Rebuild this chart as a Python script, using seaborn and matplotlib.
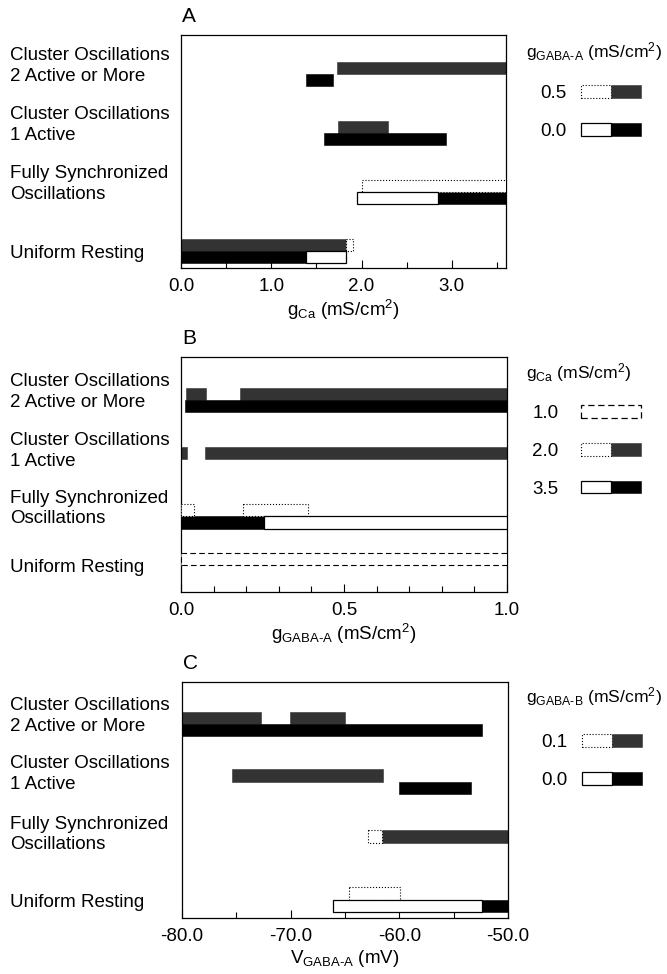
import matplotlib
matplotlib.use("Agg")
import matplotlib.pyplot as plt
import seaborn as sns
import pandas as pd
from matplotlib.patches import Patch
from matplotlib.legend_handler import HandlerTuple
from matplotlib.ticker import MultipleLocator, FormatStrFormatter

# ---------------------------------------------------------------------------
# Network states (top to bottom)
states = ["Cluster Oscillations\n2 Active or More",
          "Cluster Oscillations\n1 Active",
          "Fully Synchronized\nOscillations",
          "Uniform Resting"]

# Panel A: sweep of g_Ca for two g_GABA-A levels
a_row_pos = [0.0, 1.0, 2.0, 3.0]
a_levels = ["0.5", "0.0"]
a_row = [0, 0, 1, 1, 2, 2, 2, 3, 3, 3, 3]
a_level = ["0.5", "0.0", "0.5", "0.0", "0.5", "0.0", "0.0", "0.5", "0.5", "0.0", "0.0"]
a_start = [1.73, 1.38, 1.74, 1.58, 2.00, 1.95, 2.85, 0.00, 1.83, 0.00, 1.39]
a_end = [3.60, 1.68, 2.29, 2.94, 3.60, 2.85, 3.60, 1.83, 1.90, 1.39, 1.83]
a_filled = [1, 1, 1, 1, 0, 0, 1, 1, 0, 1, 0]

# Panel B: sweep of g_GABA-A for three g_Ca levels
b_row_pos = [0.0, 1.0, 1.97, 2.80]
b_levels = ["1.0", "2.0", "3.5"]
b_row = [0, 0, 0, 1, 1, 2, 2, 2, 2, 3]
b_level = ["2.0", "2.0", "3.5", "2.0", "2.0", "2.0", "2.0", "3.5", "3.5", "1.0"]
b_start = [0.015, 0.18, 0.012, 0.0, 0.074, 0.0, 0.19, 0.0, 0.255, 0.0]
b_end = [0.077, 1.0, 1.0, 0.018, 1.0, 0.04, 0.39, 0.255, 1.0, 1.0]
b_filled = [1, 1, 1, 1, 1, 0, 0, 1, 0, 0]

# Panel C: sweep of V_GABA-A for two g_GABA-B levels
c_row_pos = [0.0, 0.98, 2.01, 2.98]
c_levels = ["0.1", "0.0"]
c_row = [0, 0, 0, 1, 1, 2, 2, 3, 3, 3]
c_level = ["0.1", "0.1", "0.0", "0.1", "0.0", "0.1", "0.1", "0.1", "0.0", "0.0"]
c_start = [-80.0, -70.1, -80.0, -75.4, -60.0, -62.9, -61.6, -64.6, -66.1, -52.4]
c_end = [-72.7, -65.0, -52.4, -61.5, -53.4, -61.6, -50.0, -59.9, -52.4, -50.0]
c_filled = [1, 1, 1, 1, 1, 0, 1, 0, 0, 1]

# ---------------------------------------------------------------------------
sns.set_theme(style="white", rc={
    "axes.edgecolor": "black",
    "axes.linewidth": 0.9,
    "xtick.color": "black",
    "axes.labelcolor": "black",
    "text.color": "black",
    "axes.unicode_minus": False,
})
plt.rcParams["font.family"] = ["Liberation Sans", "DejaVu Sans"]
plt.rcParams["mathtext.fontset"] = "custom"
plt.rcParams["mathtext.rm"] = "Liberation Sans"
plt.rcParams["mathtext.it"] = "Liberation Sans"

FS = 13.5
GRAY = "#333333"
BAR_H = 0.21

# style of each level: (slot: -1 upper / +1 lower, fill colour, open-outline linestyle)
styles = {
    "A": {"0.5": (-1, GRAY, ":"), "0.0": (1, "black", "-")},
    "B": {"1.0": (-1, None, (0, (5, 3))), "2.0": (-1, GRAY, ":"), "3.5": (1, "black", "-")},
    "C": {"0.1": (-1, GRAY, ":"), "0.0": (1, "black", "-")},
}

W, H = 667, 974
fig = plt.figure(figsize=(W / 100, H / 100), dpi=100)


def px_axes(left, right, top, bottom):
    return fig.add_axes([left / W, 1 - bottom / H, (right - left) / W, (bottom - top) / H])


def draw_panel(ax, key, row_pos, rows, levels, starts, ends, filled, ylim):
    df = pd.DataFrame({"row": rows, "level": levels, "start": starts,
                       "end": ends, "filled": filled})
    st = styles[key]
    for _, r in df.iterrows():
        slot, col, ls = st[r["level"]]
        y = row_pos[r["row"]] + slot * BAR_H / 2
        if r["filled"] and col is not None:
            ax.barh(y, r["end"] - r["start"], left=r["start"], height=BAR_H,
                    color=col, edgecolor=col, linewidth=0.4, zorder=2)
        else:
            ax.barh(y, r["end"] - r["start"], left=r["start"], height=BAR_H,
                    facecolor="white", edgecolor="black", linestyle=ls,
                    linewidth=0.9 if ls == "-" else 0.8, zorder=3)
    ax.set_ylim(*ylim)
    ax.set_yticks([])
    for i, lab in enumerate(states):
        ax.annotate(lab, xy=(10 / W, row_pos[i]), xycoords=("figure fraction", "data"),
                    xytext=(0, -7.7), textcoords="offset points",
                    ha="left", va="bottom", fontsize=FS, linespacing=1.25,
                    annotation_clip=False)
    ax.tick_params(axis="x", which="both", direction="in", bottom=True, top=False,
                   labelsize=FS, pad=7.5, width=0.8, labelcolor="black")
    ax.tick_params(axis="x", which="major", length=6)
    ax.tick_params(axis="x", which="minor", length=4)
    for s in ax.spines.values():
        s.set_visible(True)
        s.set_color("black")


def panel_letter(ax, letter):
    ax.annotate(letter, xy=(0, 1), xycoords="axes fraction", xytext=(1, 13),
                textcoords="offset points", ha="left", va="center", fontsize=15)


def legend(handles, labels, title, title_y, top_y, left_x, textpad):
    fig.text(526 / W, 1 - title_y / H, title, ha="left", va="center", fontsize=12.6)
    fig.legend(handles, labels, loc="upper left",
               bbox_to_anchor=(left_x / W, 1 - top_y / H), bbox_transform=fig.transFigure,
               frameon=False, markerfirst=False, fontsize=FS,
               handlelength=3.2, handleheight=0.66, handletextpad=textpad,
               labelspacing=1.11, borderpad=0, borderaxespad=0,
               handler_map={tuple: HandlerTuple(ndivide=None, pad=0)})


def open_patch(ls, lw=0.9):
    return Patch(facecolor="white", edgecolor="black", linestyle=ls, linewidth=lw)


def fill_patch(c):
    return Patch(facecolor=c, edgecolor=c, linewidth=0.4)


# ---------------------------- Panel A --------------------------------------
axA = px_axes(181, 506, 35, 268)
draw_panel(axA, "A", a_row_pos, a_row, a_level, a_start, a_end, a_filled,
           (3.288, -0.661))
axA.set_xlim(0, 3.6)
axA.xaxis.set_major_locator(MultipleLocator(1.0))
axA.xaxis.set_minor_locator(MultipleLocator(0.5))
axA.xaxis.set_major_formatter(FormatStrFormatter("%.1f"))
axA.set_xlabel(r"$\mathregular{g_{Ca}}$ (mS/cm$\mathregular{^2}$)", fontsize=FS, labelpad=2)
panel_letter(axA, "A")
legend([(open_patch(":", 0.8), fill_patch(GRAY)), (open_patch("-"), fill_patch("black"))],
       a_levels, r"$\mathregular{g_{GABA‐A}}$ (mS/cm$\mathregular{^2}$)", 52, 85, 540, 0.8)

# ---------------------------- Panel B --------------------------------------
axB = px_axes(181, 507, 357, 592)
draw_panel(axB, "B", b_row_pos, b_row, b_level, b_start, b_end, b_filled,
           (3.254, -0.729))
axB.set_xlim(0, 1.0)
axB.xaxis.set_major_locator(MultipleLocator(0.5))
axB.xaxis.set_minor_locator(MultipleLocator(0.1))
axB.xaxis.set_major_formatter(FormatStrFormatter("%.1f"))
axB.set_xlabel(r"$\mathregular{g_{GABA‐A}}$ (mS/cm$\mathregular{^2}$)", fontsize=FS, labelpad=2)
panel_letter(axB, "B")
legend([open_patch((0, (5, 3))),
        (open_patch(":", 0.8), fill_patch(GRAY)), (open_patch("-"), fill_patch("black"))],
       b_levels, r"$\mathregular{g_{Ca}}$ (mS/cm$\mathregular{^2}$)", 373, 405, 532, 1.2)

# ---------------------------- Panel C --------------------------------------
axC = px_axes(182, 508, 682, 918)
draw_panel(axC, "C", c_row_pos, c_row, c_level, c_start, c_end, c_filled,
           (3.288, -0.712))
axC.set_xlim(-80, -50)
axC.xaxis.set_major_locator(MultipleLocator(10))
axC.xaxis.set_minor_locator(MultipleLocator(5))
axC.xaxis.set_major_formatter(FormatStrFormatter("%.1f"))
axC.set_xlabel(r"$\mathregular{V_{GABA‐A}}$ (mV)", fontsize=FS, labelpad=2)
panel_letter(axC, "C")
legend([(open_patch(":", 0.8), fill_patch(GRAY)), (open_patch("-"), fill_patch("black"))],
       c_levels, r"$\mathregular{g_{GABA‐B}}$ (mS/cm$\mathregular{^2}$)", 697, 734, 541, 0.8)

fig.savefig("out.png", dpi=100, facecolor="white")
